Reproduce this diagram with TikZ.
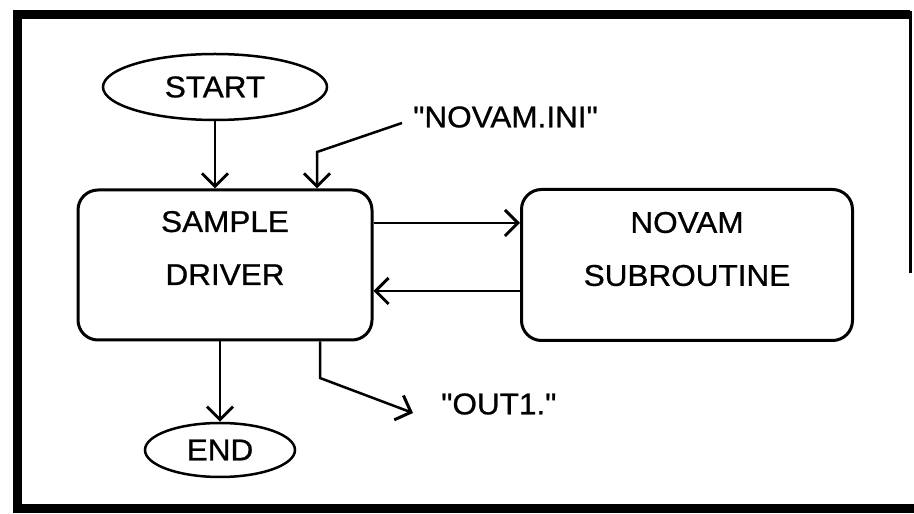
\documentclass[tikz,border=0pt]{standalone}
\usepackage{fontspec}
\setmainfont{Liberation Sans}[FakeStretch=1.05,FakeBold=0.8,Ligatures=TeXOff]
\usetikzlibrary{calc,arrows.meta,shapes.geometric}

\begin{document}
\begin{tikzpicture}[x=1pt,y=1pt,line width=2.5pt,
  flow/.style={-{Straight Barb[length=13pt,width=26pt,line width=3pt]}},
  lbl/.style={font=\fontsize{30}{53}\selectfont,align=center,inner sep=0pt},
  term/.style={ellipse,draw,lbl},
  proc/.style={draw,rounded corners=20pt,line width=3pt,inner sep=0pt}]
  \useasboundingbox (0,0) rectangle (914,514);
  \draw[line width=9pt] (910,499) -- (17,499) -- (17,5) -- (914,5);
  \draw[line width=3pt] (910,503) -- (910,241);

  \node[term,minimum width=224pt,minimum height=66pt] (start) at (215,427) {START};
  \node[term,minimum width=150pt,minimum height=54pt] (end) at (220,64) {END};
  \node[proc,minimum width=294pt,minimum height=150pt] (driver) at (225,249) {};
  \node[proc,minimum width=331pt,minimum height=151pt] (novam) at (687,249) {};
  \node[lbl] (driverText) at ($(driver)+(0,17)$) {SAMPLE\\DRIVER};
  \node[lbl] (novamText) at ($(novam)+(0,16)$) {NOVAM\\SUBROUTINE};
  \node[lbl,anchor=west] (iniFile) at (412,397) {"NOVAM.INI"};
  \node[lbl,anchor=west] (outFile) at (440,110) {"OUT1."};
  \coordinate (iniBend) at (317,362);
  \coordinate (outBend) at (320,136);

  \draw[flow] (start.south) -- (start.south |- driver.north);
  \draw[flow] ($(iniFile.west)+(-10,-6)$) -- (iniBend) -- (iniBend |- driver.north);
  \draw[flow] ($(driver.east)+(0,42)$) -- ($(novam.west)+(0,42)$);
  \draw[flow] ($(novam.west)+(0,-26)$) -- ($(driver.east)+(0,-26)$);
  \draw[flow] (end.north |- driver.south) -- (end.north);
  \draw[flow] (outBend |- driver.south) -- (outBend) -- ($(outFile.west)+(-27,-9)$);

\end{tikzpicture}
\end{document}
